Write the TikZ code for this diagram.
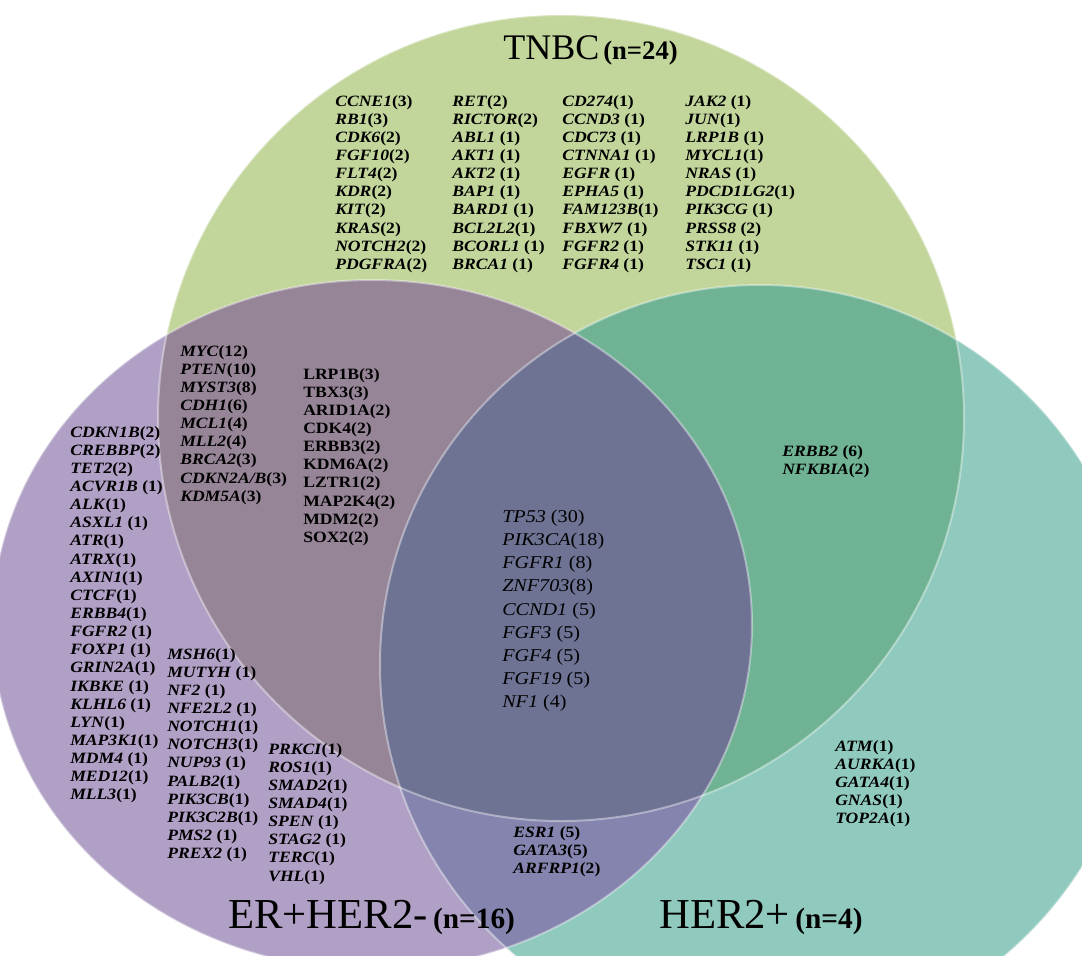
\documentclass[tikz,border=0pt]{standalone}
\usepackage{fontspec}
\setmainfont{Liberation Serif}
\newfontfamily\genefont[FakeStretch=1.12]{Liberation Serif}
\usepackage{tikz}
\usetikzlibrary{positioning}

\definecolor{tnbcGreen}{HTML}{C2D59A}
\definecolor{erPurple}{HTML}{B1A0C6}
\definecolor{herTeal}{HTML}{90C9BD}
\definecolor{tnbcEr}{HTML}{968597}
\definecolor{tnbcHer}{HTML}{6FB394}
\definecolor{erHer}{HTML}{8484AE}
\definecolor{allThree}{HTML}{6E7293}

\newcommand{\gi}[1]{\textit{#1}}
\newcommand{\tnbcCircle}{(561,418) circle (403)}
\newcommand{\erCircle}{(372,625) ellipse (380 and 345)}
\newcommand{\herCircle}{(760,665) circle (380)}

\begin{document}
\begin{tikzpicture}[
    x=0.75pt, y=-0.75pt,
    genes/.style={anchor=north west, align=left, inner sep=0pt, font=\genefont\bfseries\fontsize{11.8}{13.6}\selectfont},
    core/.style={anchor=north west, align=left, inner sep=0pt, font=\genefont\fontsize{13.5}{17.3}\selectfont},
    title/.style={anchor=base west, inner sep=0pt, font=\fontsize{32}{32}\selectfont},
    rim/.style={draw=white, draw opacity=0.4, line width=1.5pt}
]
\useasboundingbox (0,0) rectangle (1082,956);
\clip (0,0) rectangle (1082,956);
\fill[white] (0,0) rectangle (1082,956);

\fill[tnbcGreen] \tnbcCircle;
\fill[erPurple] \erCircle;
\fill[herTeal] \herCircle;
\begin{scope}
  \clip \tnbcCircle;
  \fill[tnbcEr] \erCircle;
  \fill[tnbcHer] \herCircle;
\end{scope}
\begin{scope}
  \clip \erCircle;
  \fill[erHer] \herCircle;
\end{scope}
\begin{scope}
  \clip \tnbcCircle;
  \clip \erCircle;
  \fill[allThree] \herCircle;
\end{scope}
\draw[rim] \tnbcCircle;
\draw[rim] \erCircle;
\draw[rim] \herCircle;

\node[title, font=\fontsize{27}{27}\selectfont] (tnbcLabel) at (503,60) {TNBC\hspace{3pt}{\bfseries\fontsize{20}{20}\selectfont(n=24)}};
\node[title] (erLabel) at (228,928) {ER+HER2-\hspace{4pt}{\bfseries\fontsize{22}{22}\selectfont(n=16)}};
\node[title] (herLabel) at (659,928) {HER2+\hspace{4pt}{\bfseries\fontsize{22}{22}\selectfont(n=4)}};

\node[genes] (tnbcA) at (335,95) {\gi{CCNE1}(3)\\ \gi{RB1}(3)\\ \gi{CDK6}(2)\\ \gi{FGF10}(2)\\ \gi{FLT4}(2)\\ \gi{KDR}(2)\\ \gi{KIT}(2)\\ \gi{KRAS}(2)\\ \gi{NOTCH2}(2)\\ \gi{PDGFRA}(2)};
\node[genes] (tnbcB) at (452,95) {\gi{RET}(2)\\ \gi{RICTOR}(2)\\ \gi{ABL1} (1)\\ \gi{AKT1} (1)\\ \gi{AKT2} (1)\\ \gi{BAP1} (1)\\ \gi{BARD1} (1)\\ \gi{BCL2L2}(1)\\ \gi{BCORL1} (1)\\ \gi{BRCA1} (1)};
\node[genes] (tnbcC) at (562,95) {\gi{CD274}(1)\\ \gi{CCND3} (1)\\ \gi{CDC73} (1)\\ \gi{CTNNA1} (1)\\ \gi{EGFR} (1)\\ \gi{EPHA5} (1)\\ \gi{FAM123B}(1)\\ \gi{FBXW7} (1)\\ \gi{FGFR2} (1)\\ \gi{FGFR4} (1)};
\node[genes] (tnbcD) at (685,95) {\gi{JAK2} (1)\\ \gi{JUN}(1)\\ \gi{LRP1B} (1)\\ \gi{MYCL1}(1)\\ \gi{NRAS} (1)\\ \gi{PDCD1LG2}(1)\\ \gi{PIK3CG} (1)\\ \gi{PRSS8} (2)\\ \gi{STK11} (1)\\ \gi{TSC1} (1)};

\node[genes] (tnbcErA) at (180,345) {\gi{MYC}(12)\\ \gi{PTEN}(10)\\ \gi{MYST3}(8)\\ \gi{CDH1}(6)\\ \gi{MCL1}(4)\\ \gi{MLL2}(4)\\ \gi{BRCA2}(3)\\ \gi{CDKN2A/B}(3)\\ \gi{KDM5A}(3)};
\node[genes] (tnbcErB) at (303,368) {LRP1B(3)\\ TBX3(3)\\ ARID1A(2)\\ CDK4(2)\\ ERBB3(2)\\ KDM6A(2)\\ LZTR1(2)\\ MAP2K4(2)\\ MDM2(2)\\ SOX2(2)};

\node[genes] (erA) at (70,426) {\gi{CDKN1B}(2)\\ \gi{CREBBP}(2)\\ \gi{TET2}(2)\\ \gi{ACVR1B} (1)\\ \gi{ALK}(1)\\ \gi{ASXL1} (1)\\ \gi{ATR}(1)\\ \gi{ATRX}(1)\\ \gi{AXIN1}(1)\\ \gi{CTCF}(1)\\ \gi{ERBB4}(1)\\ \gi{FGFR2} (1)\\ \gi{FOXP1} (1)\\ \gi{GRIN2A}(1)\\ \gi{IKBKE} (1)\\ \gi{KLHL6} (1)\\ \gi{LYN}(1)\\ \gi{MAP3K1}(1)\\ \gi{MDM4} (1)\\ \gi{MED12}(1)\\ \gi{MLL3}(1)};
\node[genes] (erB) at (167,648) {\gi{MSH6}(1)\\ \gi{MUTYH} (1)\\ \gi{NF2} (1)\\ \gi{NFE2L2} (1)\\ \gi{NOTCH1}(1)\\ \gi{NOTCH3}(1)\\ \gi{NUP93} (1)\\ \gi{PALB2}(1)\\ \gi{PIK3CB}(1)\\ \gi{PIK3C2B}(1)\\ \gi{PMS2} (1)\\ \gi{PREX2} (1)};
\node[genes] (erC) at (268,743) {\gi{PRKCI}(1)\\ \gi{ROS1}(1)\\ \gi{SMAD2}(1)\\ \gi{SMAD4}(1)\\ \gi{SPEN} (1)\\ \gi{STAG2} (1)\\ \gi{TERC}(1)\\ \gi{VHL}(1)};

\node[core] (allGenes) at (502,510) {\gi{TP53} (30)\\ \gi{PIK3CA}(18)\\ \gi{FGFR1} (8)\\ \gi{ZNF703}(8)\\ \gi{CCND1} (5)\\ \gi{FGF3} (5)\\ \gi{FGF4} (5)\\ \gi{FGF19} (5)\\ \gi{NF1} (4)};

\node[genes] (tnbcHerGenes) at (782,445) {\gi{ERBB2} (6)\\ \gi{NFKBIA}(2)};
\node[genes] (herGenes) at (835,740) {\gi{ATM}(1)\\ \gi{AURKA}(1)\\ \gi{GATA4}(1)\\ \gi{GNAS}(1)\\ \gi{TOP2A}(1)};
\node[genes] (erHerGenes) at (513,826) {\gi{ESR1} (5)\\ \gi{GATA3}(5)\\ \gi{ARFRP1}(2)};
\end{tikzpicture}
\end{document}
